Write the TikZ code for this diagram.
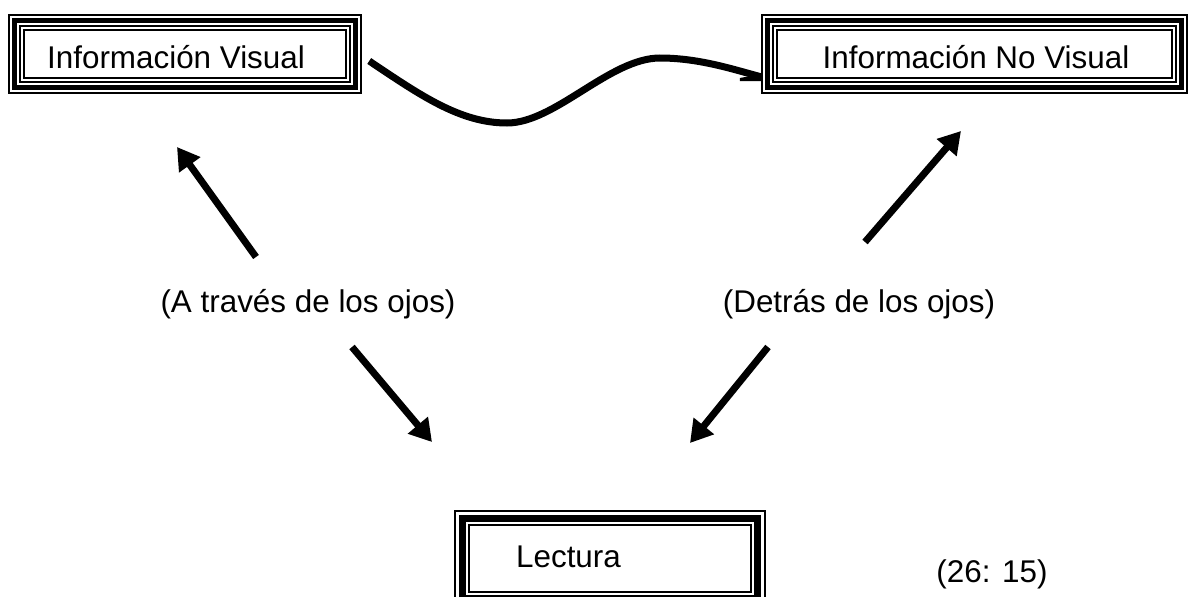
\documentclass[tikz,border=0pt]{standalone}
\usepackage{fontspec}
\setmainfont{Liberation Sans}
\usetikzlibrary{arrows.meta,calc}
\tikzset{
  txt/.style={inner sep=0pt, font=\fontsize{31.4pt}{37pt}\selectfont, anchor=base},
  framebox/.style={inner sep=0pt, draw=none},
  bigarrow/.style={line width=7pt, -{Triangle[length=22pt,width=25pt]}},
  wave/.style={line width=7pt},
}
\newcommand\quadframe[1]{%
  \draw[line width=1.6pt] (#1.north west) rectangle (#1.south east);
  \draw[line width=4.6pt] ([shift={(5.5,5.5)}]#1.north west) rectangle ([shift={(-5.5,-5.5)}]#1.south east);
  \draw[line width=1.6pt] ([shift={(11,11)}]#1.north west) rectangle ([shift={(-11,-11)}]#1.south east);
  \draw[line width=1.6pt] ([shift={(15,15)}]#1.north west) rectangle ([shift={(-15,-15)}]#1.south east);
}
\newcommand\triframe[1]{%
  \draw[line width=2pt] (#1.north west) rectangle (#1.south east);
  \draw[line width=7pt] ([shift={(7.5,7.5)}]#1.north west) rectangle ([shift={(-7.5,-7.5)}]#1.south east);
  \draw[line width=2pt] ([shift={(14,14)}]#1.north west) rectangle ([shift={(-14,-14)}]#1.south east);
}
\begin{document}
\begin{tikzpicture}[x=1pt,y=-1pt]
\useasboundingbox[fill=white] (0,0) rectangle (1189,597);

% boxes
\node[framebox, minimum width=352pt, minimum height=78pt] (b1) at (185,54) {};
\quadframe{b1}
\node[txt] (t1) at (176,68) {Información Visual};

\node[framebox, minimum width=425pt, minimum height=78pt] (b2) at (974.5,54) {};
\quadframe{b2}
\node[txt] (t2) at (976,68) {Información No Visual};

\node[framebox, minimum width=310pt, minimum height=95pt] (b3) at (610,558.5) {};
\triframe{b3}
\node[txt] (t3) at (568.5,567) {Lectura};

% labels
\node[txt] (l1) at (308,312) {(A través de los ojos)};
\node[txt] (l2) at (859,312) {(Detrás de los ojos)};
\node[txt] (n1) at (992,582) {(26: 15)};

% arrow end points
\coordinate (a1s) at (256,257); \coordinate (a1e) at (177,147);
\coordinate (a2s) at (865,242); \coordinate (a2e) at (961,131);
\coordinate (a3s) at (352,347); \coordinate (a3e) at (432,442);
\coordinate (a4s) at (768,347); \coordinate (a4e) at (690,443);

\draw[bigarrow] (a1s) -- (a1e);
\draw[bigarrow] (a2s) -- (a2e);
\draw[bigarrow] (a3s) -- (a3e);
\draw[bigarrow] (a4s) -- (a4e);

% wave between the two top boxes
\coordinate (w0) at ($(b1.east)+(8,7)$);
\coordinate (w1) at ($(b2.west)+(0,23)$);
\draw[wave] (w0) .. controls (420,95) and (460,123) .. (507,123)
  .. controls (555,123) and (610,58) .. (660,58)
  .. controls (700,58) and (735,70) .. (w1);
\fill ($(w1)+(-22,1)$) -- ($(w1)+(0,-3)$) -- ($(w1)+(0,4)$) -- ($(w1)+(-22,4)$) -- cycle;
\end{tikzpicture}
\end{document}
